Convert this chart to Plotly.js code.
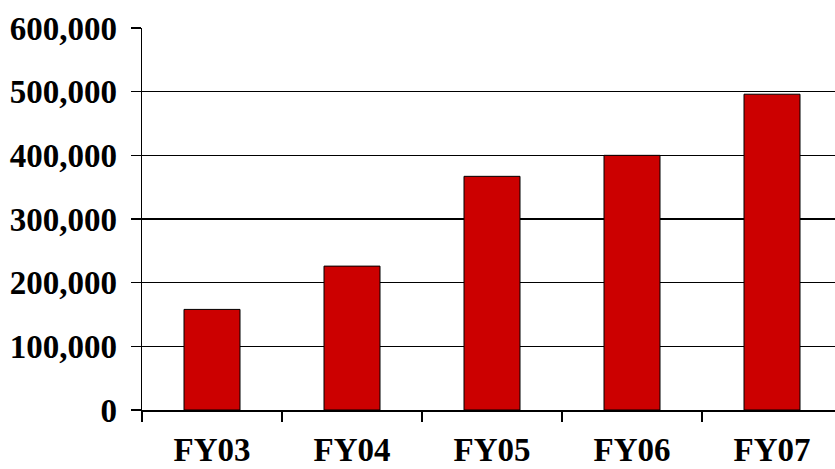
<!DOCTYPE html>
<html>
<head>
<meta charset="utf-8">
<script src="https://cdn.plot.ly/plotly-3.0.1.min.js"></script>
<style>html,body{margin:0;padding:0;background:#fff;}#chart{width:835px;height:469px;}</style>
</head>
<body>
<div id="chart"></div>
<script>
const categories = ["FY03", "FY04", "FY05", "FY06", "FY07"];
const values = [158000, 226000, 367000, 400000, 496000];
const yTickValues = [0, 100000, 200000, 300000, 400000, 500000, 600000];
const yTickLabels = ["0", "100,000", "200,000", "300,000", "400,000", "500,000", "600,000"];

const font = {family: "Liberation Serif, Times New Roman, serif", size: 33, color: "#000"};

Plotly.newPlot("chart", [{
  type: "bar",
  x: categories,
  y: values,
  width: 0.4,
  marker: {color: "#CC0000", line: {color: "#000", width: 1}},
  hoverinfo: "none"
}], {
  width: 835,
  height: 469,
  margin: {l: 142, r: 0, t: 28, b: 59, pad: 0},
  paper_bgcolor: "#fff",
  plot_bgcolor: "#fff",
  showlegend: false,
  font: font,
  xaxis: {
    type: "category",
    range: [-0.5, 4.45],
    tickson: "boundaries",
    ticks: "outside",
    ticklen: 10,
    tickwidth: 1.5,
    tickcolor: "#000",
    showline: true,
    linecolor: "#000",
    linewidth: 1.5,
    showgrid: false,
    tickfont: {family: font.family, size: 33, color: "#000", weight: "bold"},
    ticklabelstandoff: 10
  },
  yaxis: {
    range: [0, 600000],
    tickmode: "array",
    tickvals: yTickValues,
    ticktext: yTickLabels,
    ticks: "outside",
    ticklen: 10,
    tickwidth: 1.5,
    tickcolor: "#000",
    showline: true,
    linecolor: "#000",
    linewidth: 1.5,
    showgrid: true,
    gridcolor: "#000",
    gridwidth: 1.5,
    zeroline: false,
    tickfont: {family: font.family, size: 33, color: "#000", weight: "bold"},
    ticklabelstandoff: 7
  }
}, {staticPlot: true, displayModeBar: false});
</script>
</body>
</html>
